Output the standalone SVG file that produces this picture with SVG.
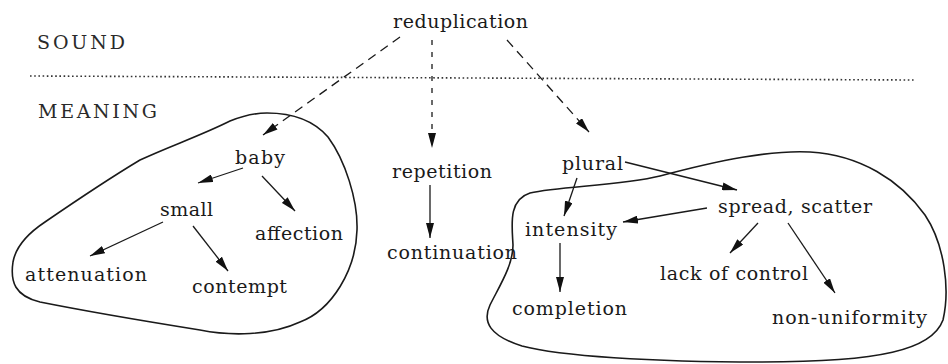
<svg xmlns="http://www.w3.org/2000/svg" width="948" height="364" viewBox="0 0 948 364">
<style>
text{font-family:"DejaVu Serif","Liberation Serif",serif;font-size:19px;fill:#1a1a1a}
.lbl{font-size:19px;fill:#2a2a2a}
.blob{fill:none;stroke:#1a1a1a;stroke-width:1.6}
.c{fill:none;stroke:#1a1a1a;stroke-width:1.3}
.d{stroke-dasharray:9 6}
.dm{stroke-dasharray:5 7}
.sep{fill:none;stroke:#333;stroke-width:1.6;stroke-dasharray:1.6 2.6}
</style>
<defs>
<marker id="ah" viewBox="0 0 15 8" refX="15" refY="4" markerWidth="15" markerHeight="8" markerUnits="userSpaceOnUse" orient="auto">
<path d="M0,0 L15,4 L0,8 Z" fill="#111" stroke="none"/>
</marker>
</defs>
<rect width="948" height="364" fill="#fff"/>
<g id="labels">
<text class="lbl" x="37" y="49" textLength="88" lengthAdjust="spacing">SOUND</text>
<text class="lbl" x="38" y="118" textLength="119" lengthAdjust="spacing">MEANING</text>
<path class="sep" d="M30,76 L914,80"/>
</g>
<g id="regions">
<path id="region-left" class="blob" d="M267,113 C295,113 315,122 328,137 C345,160 358,200 357,230 C356,270 332,310 300,322 C270,336 230,336 200,330 C150,322 90,312 40,302 C15,296 10,282 13,262 C16,245 30,232 45,222 C80,198 110,178 140,160 C170,146 200,136 230,121 C245,115 255,113 267,113 Z"/>
<path id="region-right" class="blob" d="M513,245 C512,225 508,200 530,193 C560,186 620,186 660,176 C720,160 770,150 810,152 C860,155 900,180 925,215 C945,245 950,290 943,320 C932,350 880,362 760,362 C650,362 560,356 522,346 C490,336 482,322 490,305 C500,285 513,265 513,245 Z"/>
</g>
<g id="connectors">
<path class="c d" d="M400,37 L263,135" marker-end="url(#ah)"/>
<path class="c dm" d="M432,40 L432,148" marker-end="url(#ah)"/>
<path class="c d" d="M507,40 L589,132" marker-end="url(#ah)"/>
<path class="c" d="M243,168 L198,183" marker-end="url(#ah)"/>
<path class="c" d="M262,176 L295,211" marker-end="url(#ah)"/>
<path class="c" d="M163,222 L90,256" marker-end="url(#ah)"/>
<path class="c" d="M193,226 L228,271" marker-end="url(#ah)"/>
<path class="c" d="M430,185 L430,238" marker-end="url(#ah)"/>
<path class="c" d="M625,162 L737,190" marker-end="url(#ah)"/>
<path class="c" d="M577,178 L564,216" marker-end="url(#ah)"/>
<path class="c" d="M707,208 L623,222" marker-end="url(#ah)"/>
<path class="c" d="M560,243 L560,292" marker-end="url(#ah)"/>
<path class="c" d="M758,223 L730,253" marker-end="url(#ah)"/>
<path class="c" d="M788,223 L835,293" marker-end="url(#ah)"/>
</g>
<g id="reduplication"><text x="393" y="28" textLength="135" lengthAdjust="spacing">reduplication</text></g>
<g id="baby"><text x="235" y="164" textLength="50" lengthAdjust="spacing">baby</text></g>
<g id="small"><text x="160" y="216" textLength="53" lengthAdjust="spacing">small</text></g>
<g id="affection"><text x="255" y="240" textLength="88" lengthAdjust="spacing">affection</text></g>
<g id="attenuation"><text x="25" y="281" textLength="122" lengthAdjust="spacing">attenuation</text></g>
<g id="contempt"><text x="192" y="293" textLength="95" lengthAdjust="spacing">contempt</text></g>
<g id="repetition"><text x="392" y="178" textLength="100" lengthAdjust="spacing">repetition</text></g>
<g id="continuation"><text x="387" y="259" textLength="130" lengthAdjust="spacing">continuation</text></g>
<g id="plural"><text x="562" y="170" textLength="61" lengthAdjust="spacing">plural</text></g>
<g id="spread-scatter"><text x="718" y="213" textLength="154" lengthAdjust="spacing">spread, scatter</text></g>
<g id="intensity"><text x="525" y="236" textLength="92" lengthAdjust="spacing">intensity</text></g>
<g id="lack-of-control"><text x="660" y="280" textLength="148" lengthAdjust="spacing">lack of control</text></g>
<g id="completion"><text x="512" y="315" textLength="115" lengthAdjust="spacing">completion</text></g>
<g id="non-uniformity"><text x="772" y="324" textLength="155" lengthAdjust="spacing">non-uniformity</text></g>
</svg>
